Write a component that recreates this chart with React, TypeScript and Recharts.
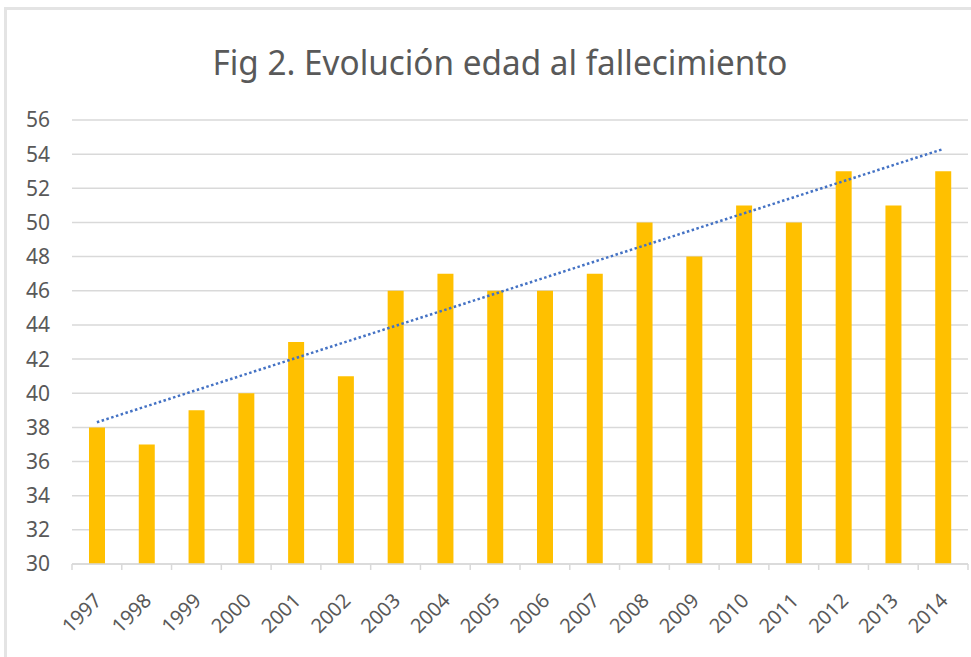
import { ComposedChart, Bar, XAxis, YAxis, CartesianGrid, ReferenceLine } from 'recharts'

const years = ['1997', '1998', '1999', '2000', '2001', '2002', '2003', '2004', '2005', '2006', '2007', '2008', '2009', '2010', '2011', '2012', '2013', '2014']
const edad = [38, 37, 39, 40, 43, 41, 46, 47, 46, 46, 47, 50, 48, 51, 50, 53, 51, 53]
const yTicks = [30, 32, 34, 36, 38, 40, 42, 44, 46, 48, 50, 52, 54, 56]
// linear trend (first and last year)
const trendStart = 38.3
const trendEnd = 54.3

const FONT = '"Noto Sans", "Liberation Sans", sans-serif'
const TEXT = '#595959'
const GRID = '#D9D9D9'

const data = years.map((year, i) => ({ year, edad: edad[i] }))

const YearTick = ({ x, y, payload, index }: any) => {
  const half = payload?.offset ?? 24.9
  const tx = x + 6
  const ty = y + 38
  return (
    <g>
      <line x1={x - half} x2={x - half} y1={y} y2={y + 6} stroke={GRID} strokeWidth={1.5} />
      {index === years.length - 1 && (
        <line x1={x + half} x2={x + half} y1={y} y2={y + 6} stroke={GRID} strokeWidth={1.5} />
      )}
      <text
        x={tx}
        y={ty}
        transform={`rotate(-45, ${tx}, ${ty})`}
        textAnchor="end"
        fill={TEXT}
        fontSize={20}
        fontFamily={FONT}
      >
        {payload.value}
      </text>
    </g>
  )
}

export default function App() {
  return (
    <div style={{ position: 'absolute', left: 0, top: 0, width: 971, height: 657, background: '#fff' }}>
      <div style={{ position: 'absolute', left: 4, top: 7, right: 0, bottom: 0, borderTop: '3px solid #E4E4E4', borderLeft: '3px solid #E4E4E4' }} />
      <svg width={971} height={110} style={{ position: 'absolute', left: 0, top: 0 }}>
        <text
          x={500}
          y={75}
          textAnchor="middle"
          fill={TEXT}
          fontSize={34}
          fontFamily={FONT}
          textLength={575}
          lengthAdjust="spacingAndGlyphs"
        >
          Fig 2. Evolución edad al fallecimiento
        </text>
      </svg>
      <div style={{ position: 'absolute', left: 0, top: 0 }}>
        <ComposedChart width={971} height={657} data={data} margin={{ top: 120, right: 3, bottom: 0, left: 12 }}>
          <CartesianGrid vertical={false} stroke={GRID} strokeWidth={1.5} />
          <XAxis
            dataKey="year"
            interval={0}
            tickLine={false}
            tickSize={0}
            tickMargin={0}
            axisLine={{ stroke: GRID, strokeWidth: 1.5 }}
            tick={<YearTick />}
            height={93}
          />
          <YAxis
            domain={[30, 56]}
            ticks={yTicks}
            interval={0}
            width={60}
            axisLine={false}
            tickLine={false}
            tickSize={0}
            tickMargin={22}
            tick={{ fill: TEXT, fontSize: 21, fontFamily: FONT }}
          />
          <Bar dataKey="edad" fill="#FFC000" barSize={16} isAnimationActive={false} />
          <ReferenceLine
            segment={[{ x: years[0], y: trendStart }, { x: years[years.length - 1], y: trendEnd }]}
            stroke="#4472C4"
            strokeWidth={2.5}
            strokeDasharray="2.5 2.5"
          />
        </ComposedChart>
      </div>
    </div>
  )
}
